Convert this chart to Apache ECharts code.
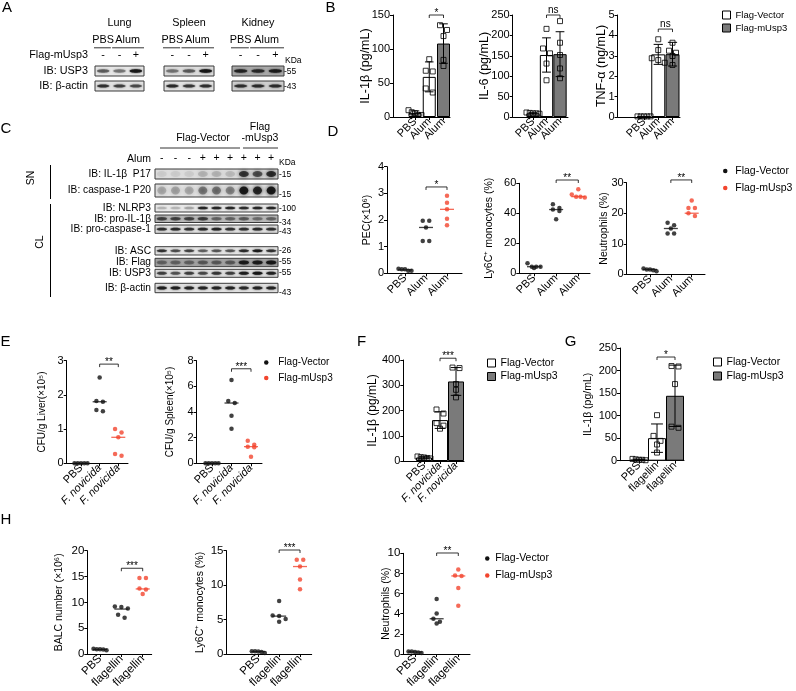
<!DOCTYPE html>
<html><head><meta charset="utf-8">
<script src="https://cdn.jsdelivr.net/npm/echarts@6/dist/echarts.min.js"></script>
<style>html,body{margin:0;padding:0;background:#fff}#c{width:796px;height:691px}</style>
</head><body><div id="c"></div><script>
const FONT = '"Liberation Sans", Arial, Helvetica, sans-serif';
const GRAY = '#7a7a7a';
const RED = '#f2452e';
const BLACK = '#111111';

// ---------- categories ----------
const catAlum = ['PBS', 'Alum', 'Alum'];
const catNov = ['PBS', 'F. novicida', 'F. novicida'];
const catFla = ['PBS', 'flagellin', 'flagellin'];
const groupNames = ['Flag-Vector', 'Flag-mUsp3'];

// ---------- B: cytokines (bars = mean, SD, points) ----------
const bIL1bPts = [[10, 3, 5.6, 7, 3], [85, 67, 68, 42, 36], [135, 128, 119, 84, 75]];
const bIL1bMean = [6, 59, 108];
const bIL1bSD = [3, 22, 29];
const bIL6Pts = [[8, 10, 9, 11, 9], [216, 168, 156, 131, 90], [235, 182, 152, 119, 95]];
const bIL6Mean = [9, 152, 154];
const bIL6SD = [1.5, 42, 55];
const bTNFPts = [[0.03, 0.03, 0.03, 0.03, 0.03], [3.81, 3.28, 2.88, 2.66, 2.79], [3.64, 3.25, 2.99, 2.55, 3.15]];
const bTNFMean = [0.03, 3.07, 3.08];
const bTNFSD = [0, 0.49, 0.58];

// ---------- D: peritoneal cells (points, medians) ----------
const dPECPts = [[0.1, 0.15, 0.17, 0.15, 0.1], [1.97, 1.97, 1.72, 1.21, 1.21], [2.91, 2.65, 2.4, 2.05, 1.8]];
const dPECMed = [0.13, 1.72, 2.4];
const dLyPts = [[3.5, 4.4, 6.7, 4.4, 4.4], [46, 43.5, 42.5, 41.5, 36], [56, 52.5, 51, 51, 50.5]];
const dLyMed = [4.4, 42.5, 51.1];
const dNeuPts = [[1.0, 1.3, 1.6, 1.6, 1.9], [16.9, 16.1, 15.0, 13.4, 13.4], [24.2, 21.7, 21.7, 20.0, 19.1]];
const dNeuMed = [1.6, 15.0, 20.0];

// ---------- E: bacterial burden ----------
const eLiverPts = [[0, 0, 0, 0, 0], [2.51, 1.82, 1.80, 1.56, 1.52], [1.0, 0.9, 0.76, 0.27, 0.22]];
const eLiverMed = [0, 1.8, 0.76];
const eSpleenPts = [[0, 0, 0, 0, 0], [6.5, 4.85, 4.7, 3.7, 2.7], [1.75, 1.45, 1.3, 1.25, 0.52]];
const eSpleenMed = [0, 4.7, 1.3];

// ---------- F / G: IL-1β ----------
const fIL1bPts = [[12, 18, 15, 14, 10], [204, 188, 150, 140, 128], [370, 368, 305, 282, 252]];
const fIL1bMean = [14, 162, 315];
const fIL1bSD = [3, 33, 55];
const gIL1bPts = [[2, 3, 4, 2, 1], [101, 55, 44, 36, 18], [210, 209, 170, 73, 75.5]];
const gIL1bMean = [2.4, 50, 144];
const gIL1bSD = [1, 31.5, 68];

// ---------- H: BALF ----------
const hBALCPts = [[0.9, 1.0, 0.85, 0.9, 0.75], [9.2, 8.8, 9.1, 7.0, 7.6], [14.7, 14.7, 12.7, 12.5, 11.6]];
const hBALCMed = [0.87, 8.7, 12.6];
const hLyPts = [[0.3, 0.4, 0.4, 0.35, 0.15], [7.7, 5.6, 5.5, 5.1, 4.7], [13.7, 13.7, 12.7, 10.8, 9.4]];
const hLyMed = [0.35, 5.5, 12.7];
const hNeuPts = [[0.25, 0.25, 0.2, 0.15, 0.1], [5.45, 4.03, 3.5, 3.2, 3.04], [8.4, 7.8, 7.75, 6.55, 4.8]];
const hNeuMed = [0.2, 3.5, 7.75];

// ---------- significance (from group, to group, height, label) ----------
const sigB1 = [1, 2, 150, '*'];
const sigB2 = [1, 2, 250, 'ns'];
const sigB3 = [1, 2, 4.31, 'ns'];
const sigD1 = [1, 2, 3.24, '*'];
const sigD2 = [1, 2, 62.2, '**'];
const sigD3 = [1, 2, 30.9, '**'];
const sigE1 = [1, 2, 2.9, '**'];
const sigE2 = [1, 2, 7.37, '***'];
const sigF = [1, 2, 407, '***'];
const sigG = [1, 2, 230, '*'];
const sigH1 = [1, 2, 16.6, '***'];
const sigH2 = [1, 2, 15.1, '***'];
const sigH3 = [1, 2, 10.03, '**'];

// ---------- blot band intensities (per lane) ----------
const aLungUSP3 = [0.45, 0.35, 0.9], aLungActin = [0.7, 0.6, 0.55];
const aSpleenUSP3 = [0.35, 0.45, 0.95], aSpleenActin = [0.75, 0.65, 0.7];
const aKidneyUSP3 = [0.75, 0.7, 0.85], aKidneyActin = [0.7, 0.72, 0.72];
const cP17 = [0.06, 0.06, 0.06, 0.15, 0.15, 0.12, 0.75, 0.6, 0.8];
const cP20 = [0.2, 0.22, 0.2, 0.4, 0.42, 0.35, 0.95, 0.85, 0.95];
const cNLRP3 = [0.15, 0.15, 0.2, 0.8, 0.8, 0.8, 0.75, 0.8, 0.8];
const cProIL1b = [0.55, 0.55, 0.55, 0.6, 0.35, 0.35, 0.4, 0.3, 0.35];
const cProCasp1 = [0.7, 0.75, 0.7, 0.75, 0.8, 0.7, 0.7, 0.75, 0.7];
const cASC = [0.7, 0.55, 0.6, 0.45, 0.5, 0.5, 0.75, 0.9, 0.7];
const cFlag = [0.3, 0.3, 0.3, 0.35, 0.35, 0.35, 0.85, 0.85, 0.9];
const cUSP3 = [0.6, 0.5, 0.6, 0.55, 0.65, 0.6, 0.85, 0.95, 0.8];
const cActin = [0.85, 0.85, 0.8, 0.8, 0.8, 0.8, 0.75, 0.8, 0.8];
const cAlumSigns = ['-', '-', '-', '+', '+', '+', '+', '+', '+'];
const aSigns = ['-', '-', '+'];

// ---------- layout of each chart (pixels) ----------
const specs = [
  {type: 'bar', x0: 393, x1: 450, yTop: 15, y0: 117, max: 150, step: 50, c0: 415, c2: 443.5, bw: 13, cats: catAlum, name: 'IL-1β (pg/mL)', nameX: 366, nameFs: 12.5, fs: 11, pts: bIL1bPts, mean: bIL1bMean, sd: bIL1bSD, sig: sigB1},
  {type: 'bar', x0: 512.7, x1: 568, yTop: 15, y0: 117, max: 250, step: 50, c0: 533, c2: 560, bw: 13.3, cats: catAlum, name: 'IL-6 (pg/mL)', nameX: 485, nameFs: 12.5, fs: 11, pts: bIL6Pts, mean: bIL6Mean, sd: bIL6SD, sig: sigB2},
  {type: 'bar', x0: 617.5, x1: 680, yTop: 15, y0: 117, max: 5, step: 1, c0: 644, c2: 672.5, bw: 14, cats: catAlum, name: 'TNF-α (ng/mL)', nameX: 602, nameFs: 12.5, fs: 11, pts: bTNFPts, mean: bTNFMean, sd: bTNFSD, sig: sigB3},
  {type: 'dot', x0: 387, x1: 462, yTop: 166.7, y0: 273.3, max: 4, step: 1, c0: 405, c2: 447, cats: catAlum, name: 'PEC(×10⁶)', nameX: 367, nameFs: 10.5, fs: 11, pts: dPECPts, med: dPECMed, sig: sigD1},
  {type: 'dot', x0: 519.3, x1: 590, yTop: 183.3, y0: 273.3, max: 60, step: 20, c0: 534, c2: 578.3, cats: catAlum, name: 'Ly6C⁺ monocytes (%)', nameX: 489, nameFs: 10.5, fs: 11, pts: dLyPts, med: dLyMed, sig: sigD2},
  {type: 'dot', x0: 626.7, x1: 705, yTop: 182.7, y0: 274.3, max: 30, step: 10, c0: 650, c2: 691.7, cats: catAlum, name: 'Neutrophils (%)', nameX: 604, nameFs: 10.5, fs: 11, pts: dNeuPts, med: dNeuMed, sig: sigD3},
  {type: 'dot', x0: 66.7, x1: 128, yTop: 360.7, y0: 463.3, max: 3, step: 1, c0: 81, c2: 118.3, cats: catNov, name: 'CFU/g Liver(×10⁵)', nameX: 42.7, nameFs: 10, fs: 11, pts: eLiverPts, med: eLiverMed, sig: sigE1},
  {type: 'dot', x0: 196.7, x1: 262, yTop: 360.7, y0: 463.3, max: 8, step: 2, c0: 212, c2: 251, cats: catNov, name: 'CFU/g Spleen(×10⁵)', nameX: 170.7, nameFs: 10, fs: 11, pts: eSpleenPts, med: eSpleenMed, sig: sigE2},
  {type: 'bar', x0: 403.3, x1: 464, yTop: 360, y0: 461, max: 400, step: 100, c0: 424, c2: 456, bw: 16, cats: catNov, name: 'IL-1β (pg/mL)', nameX: 373, nameFs: 12, fs: 11, pts: fIL1bPts, mean: fIL1bMean, sd: fIL1bSD, sig: sigF},
  {type: 'bar', x0: 620, x1: 684, yTop: 348, y0: 460.7, max: 250, step: 50, c0: 639, c2: 675, bw: 18, cats: catFla, name: 'IL-1β (pg/mL)', nameX: 588, nameFs: 10.5, fs: 11, pts: gIL1bPts, mean: gIL1bMean, sd: gIL1bSD, sig: sigG},
  {type: 'dot', x0: 87.3, x1: 151.7, yTop: 550.7, y0: 654, max: 20, step: 5, c0: 100, c2: 142.7, cats: catFla, name: 'BALC number (×10⁶)', nameX: 59.3, nameFs: 10.5, fs: 11.5, pts: hBALCPts, med: hBALCMed, sig: sigH1},
  {type: 'dot', x0: 226.5, x1: 311.7, yTop: 550.7, y0: 654, max: 15, step: 5, c0: 258.3, c2: 300, cats: catFla, name: 'Ly6C⁺ monocytes (%)', nameX: 200, nameFs: 10.5, fs: 11.5, pts: hLyPts, med: hLyMed, sig: sigH2},
  {type: 'dot', x0: 403.3, x1: 470, yTop: 553.3, y0: 654, max: 10, step: 2, c0: 415, c2: 458.3, cats: catFla, name: 'Neutrophils (%)', nameX: 386, nameFs: 10.5, fs: 11.5, pts: hNeuPts, med: hNeuMed, sig: sigH3}
];

// beeswarm-like horizontal offsets (layout only)
function swarm(vals, ppu, d) {
  const order = vals.map((v, i) => i).sort((a, b) => vals[b] - vals[a]);
  const rows = [];
  order.forEach(i => {
    const r = rows[rows.length - 1];
    if (r && Math.abs(vals[r[0]] - vals[i]) * ppu < d) r.push(i); else rows.push([i]);
  });
  const off = new Array(vals.length).fill(0);
  rows.forEach(r => {
    const s = r.length > 1 ? Math.min(d + 2, 13 / (r.length - 1)) : 0;
    r.forEach((i, k) => { off[i] = (k - (r.length - 1) / 2) * s; });
  });
  return off;
}

const grid = [], xAxis = [], yAxis = [], series = [];
specs.forEach((c, i) => {
  const sp = (c.c2 - c.c0) / 2;
  const ppu = (c.y0 - c.yTop) / c.max;
  const xmin = -(c.c0 - c.x0) / sp, xmax = 2 + (c.x1 - c.c2) / sp;
  grid.push({left: c.x0, top: c.yTop, width: c.x1 - c.x0, height: c.y0 - c.yTop, containLabel: false});
  const labelCfg = vals => ({
    customValues: vals, rotate: 45, margin: 3, fontSize: c.fs, color: '#000', fontFamily: FONT,
    hideOverlap: false, showMinLabel: true, showMaxLabel: true,
    formatter: v => { const t = c.cats[Math.round(v)]; return t.indexOf('F. ') === 0 ? '{i|' + t + '}' : t; },
    rich: {i: {fontStyle: 'italic', fontSize: c.fs, fontFamily: FONT, color: '#000'}}
  });
  // main x axis: line, ticks, outer category labels
  xAxis.push({
    type: 'value', gridIndex: i, position: 'bottom', min: xmin, max: xmax,
    splitLine: {show: false},
    axisLine: {show: true, onZero: false, lineStyle: {color: '#000', width: 1}},
    axisTick: {show: true, customValues: [0, 1, 2], length: 3, lineStyle: {color: '#000', width: 1}},
    axisLabel: labelCfg([0, 2])
  });
  // companion x axis on the same grid carrying the middle category label
  xAxis.push({
    type: 'value', gridIndex: i, position: 'bottom', offset: 0, min: xmin, max: xmax,
    splitLine: {show: false}, axisLine: {show: false, onZero: false}, axisTick: {show: false},
    axisLabel: labelCfg([1])
  });
  yAxis.push({
    type: 'value', gridIndex: i, min: 0, max: c.max, interval: c.step,
    name: c.name, nameLocation: 'middle', nameGap: c.x0 - c.nameX - c.nameFs / 2, nameMoveOverlap: false,
    nameTextStyle: {fontSize: c.nameFs, color: '#000', fontFamily: FONT},
    splitLine: {show: false},
    axisLine: {show: true, onZero: false, lineStyle: {color: '#000', width: 1}},
    axisTick: {show: true, length: 3, lineStyle: {color: '#000', width: 1}},
    axisLabel: {margin: 3, fontSize: c.fs, color: '#000', fontFamily: FONT, hideOverlap: false}
  });
  const ax = {xAxisIndex: 2 * i, yAxisIndex: i};
  if (c.type === 'bar') {
    series.push(Object.assign({type: 'bar', name: groupNames[0], data: [[0, c.mean[0]], [1, c.mean[1]]], barWidth: c.bw, barGap: '-100%', z: 2, silent: true,
      itemStyle: {color: '#fff', borderColor: '#000', borderWidth: 1}}, ax));
    series.push(Object.assign({type: 'bar', name: groupNames[1], data: [[2, c.mean[2]]], barWidth: c.bw, barGap: '-100%', z: 2, silent: true,
      itemStyle: {color: GRAY, borderColor: '#000', borderWidth: 1}}, ax));
    const cap = c.bw * 0.33;
    series.push(Object.assign({type: 'custom', name: 'sd', z: 3, silent: true, clip: false,
      data: c.mean.map((m, g) => [g, m, c.sd[g]]),
      renderItem: (p, api) => {
        const g = api.value(0), m = api.value(1), s = api.value(2);
        if (!s) return null;
        const t = api.coord([g, m + s]), b = api.coord([g, Math.max(0, m - s)]);
        const st = {stroke: '#000', lineWidth: 1};
        return {type: 'group', children: [
          {type: 'line', shape: {x1: t[0], y1: t[1], x2: b[0], y2: b[1]}, style: st},
          {type: 'line', shape: {x1: t[0] - cap, y1: t[1], x2: t[0] + cap, y2: t[1]}, style: st},
          {type: 'line', shape: {x1: b[0] - cap, y1: b[1], x2: b[0] + cap, y2: b[1]}, style: st}
        ]};
      }}, ax));
  }
  const sym = c.type === 'bar' ? 'rect' : 'circle';
  const size = c.type === 'bar' ? 5 : 4.5;
  const mk = g => { const off = swarm(c.pts[g], ppu, size); return c.pts[g].map((v, k) => ({value: [g, v], symbolOffset: [off[k], 0]})); };
  const style = col => c.type === 'bar' ? {color: 'rgba(0,0,0,0)', borderColor: '#000', borderWidth: 1} : {color: col};
  series.push(Object.assign({type: 'scatter', name: groupNames[0], symbol: sym, symbolSize: size, z: 4, silent: true,
    data: mk(0).concat(mk(1)), itemStyle: style(BLACK)}, ax));
  series.push(Object.assign({type: 'scatter', name: groupNames[1], symbol: sym, symbolSize: size, z: 4, silent: true,
    data: mk(2), itemStyle: style(RED)}, ax));
  if (c.type === 'dot') {
    series.push(Object.assign({type: 'scatter', name: groupNames[0], symbol: 'rect', symbolSize: [14, 1.3], z: 3, silent: true,
      data: [[0, c.med[0]], [1, c.med[1]]], itemStyle: {color: BLACK}}, ax));
    series.push(Object.assign({type: 'scatter', name: groupNames[1], symbol: 'rect', symbolSize: [14, 1.3], z: 3, silent: true,
      data: [[2, c.med[2]]], itemStyle: {color: RED}}, ax));
  }
  const sg = c.sig;
  series.push(Object.assign({type: 'custom', name: 'sig', z: 5, silent: true, clip: false,
    data: [[sg[0], sg[1], sg[2]]],
    renderItem: (p, api) => {
      const a = api.coord([api.value(0), api.value(2)]), b = api.coord([api.value(1), api.value(2)]);
      return {type: 'group', children: [
        {type: 'polyline', shape: {points: [[a[0], a[1] + 3], [a[0], a[1]], [b[0], b[1]], [b[0], b[1] + 3]]}, style: {stroke: '#000', lineWidth: 0.8, fill: 'none'}},
        {type: 'text', x: (a[0] + b[0]) / 2, y: a[1] - (sg[3] === 'ns' ? 5 : 2), style: {text: sg[3], textAlign: 'center', textVerticalAlign: 'middle', fontSize: 10, fontFamily: FONT, fill: '#000'}}
      ]};
    }}, ax));
});

// ---------- legends ----------
function lg(left, top, gap, fs, kind, iw) {
  const items = kind === 'bar'
    ? [{name: groupNames[0], icon: 'rect', itemStyle: {color: '#fff', borderColor: '#000', borderWidth: 1}},
       {name: groupNames[1], icon: 'rect', itemStyle: {color: GRAY, borderColor: '#000', borderWidth: 1}}]
    : [{name: groupNames[0], icon: 'circle', itemStyle: {color: BLACK, borderWidth: 0}},
       {name: groupNames[1], icon: 'circle', itemStyle: {color: RED, borderWidth: 0}}];
  return {left, top, orient: 'vertical', itemGap: gap, padding: 0, selectedMode: false,
    itemWidth: kind === 'bar' ? 8 : iw, itemHeight: kind === 'bar' ? 8 : 4.5,
    textStyle: {fontSize: fs, color: '#000', fontFamily: FONT}, data: items};
}
const legend = [
  lg(722, 10, 3, 9.5, 'bar'),
  lg(723, 165.5, 6, 10.5, 'dot', 10),
  lg(264, 357.5, 5.5, 10, 'dot', 14),
  lg(487, 357.5, 2.5, 10.5, 'bar'),
  lg(713, 356.5, 3, 10.5, 'bar'),
  lg(485, 553, 6, 10.5, 'dot', 6)
];

// ---------- graphic: panel letters, blots, labels ----------
function txt(s, x, y, o) {
  o = o || {};
  return {type: 'text', x, y, rotation: o.rot || 0, z: 10,
    style: {text: s, fontSize: o.fs || 10.5, fontFamily: FONT, fill: '#000', textAlign: o.al || 'left', textVerticalAlign: 'middle'}};
}
function ln(x1, y1, x2, y2, w) {
  return {type: 'line', z: 10, shape: {x1, y1, x2, y2}, style: {stroke: '#000', lineWidth: w || 1}};
}
function blot(x, y, w, h, vals, o) {
  o = o || {};
  const n = vals.length, lw = w / n, els = [];
  els.push({type: 'rect', z: 8, shape: {x, y, width: w, height: h}, style: {fill: o.bg || '#e4e4e4', stroke: '#3a3a3a', lineWidth: 1}});
  vals.forEach((v, k) => {
    const cx = x + lw * (k + 0.5);
    els.push({type: 'ellipse', z: 9, shape: {cx, cy: y + h / 2 + (o.dy || 0), rx: lw * (o.rx || 0.38), ry: (o.bh || 3) / 2},
      style: {fill: '#141414', opacity: v, shadowBlur: o.blur || 2, shadowColor: '#141414'}});
  });
  return els;
}
const G = [];
[['A', 7, 7.5], ['B', 330.5, 7.5], ['C', 6, 128.5], ['D', 333, 132], ['E', 5.5, 342], ['F', 361.5, 342], ['G', 570.5, 342], ['H', 6, 520]]
  .forEach(p => G.push(txt(p[0], p[1], p[2], {fs: 15, al: 'center'})));

// Panel A
const aTissues = [['Lung', 95, 144, aLungUSP3, aLungActin, '#e6e6e6'], ['Spleen', 164, 214, aSpleenUSP3, aSpleenActin, '#dcdcdc'], ['Kidney', 232, 284, aKidneyUSP3, aKidneyActin, '#a9a9a9']];
aTissues.forEach(t => {
  const x = t[1], w = t[2] - t[1], lw = w / 3;
  G.push(txt(t[0], x + w / 2, 22.7, {fs: 10.8, al: 'center'}));
  G.push(txt('PBS', x + lw * 0.5, 40, {fs: 10.8, al: 'center'}));
  G.push(txt('Alum', x + lw * 2, 40, {fs: 10.8, al: 'center'}));
  G.push(ln(x - 1, 47.8, x + lw - 0.5, 47.8, 0.8));
  G.push(ln(x + lw + 0.8, 47.8, x + w, 47.8, 0.8));
  aSigns.forEach((s, k) => G.push(txt(s, x + lw * (k + 0.5), 55, {fs: 10.8, al: 'center'})));
  G.push(...blot(x, 66, w, 10, t[3], {bg: t[5], bh: 3.4}));
  G.push(...blot(x, 81, w, 10, t[4], {bg: t[0] === 'Kidney' ? '#cfcfcf' : '#e2e2e2', bh: 3}));
});
G.push(txt('Flag-mUsp3', 88, 55.5, {fs: 10.8, al: 'right'}));
G.push(txt('IB: USP3', 88, 71, {fs: 10.8, al: 'right'}));
G.push(txt('IB: β-actin', 88, 86, {fs: 10.8, al: 'right'}));
G.push(txt('KDa', 285, 61, {fs: 8.5}));
G.push(txt('-55', 284, 71.5, {fs: 8.5}));
G.push(txt('-43', 284, 86.5, {fs: 8.5}));

// Panel C
const cX = 155, cW = 123, cLw = cW / 9;
G.push(txt('Flag-Vector', 203, 138, {fs: 10.5, al: 'center'}));
G.push(txt('Flag', 260, 127, {fs: 10.5, al: 'center'}));
G.push(txt('-mUsp3', 260, 138, {fs: 10.5, al: 'center'}));
G.push(ln(160, 148, 240, 148, 0.8));
G.push(ln(243, 148, 278, 148, 0.8));
G.push(txt('Alum', 151, 159, {fs: 10.5, al: 'right'}));
cAlumSigns.forEach((s, k) => G.push(txt(s, cX + cLw * (k + 0.5), 158.5, {fs: 10.5, al: 'center'})));
G.push(txt('KDa', 279, 163, {fs: 8.5}));
const cRows = [
  ['IB: IL-1β  P17', 169, 10, cP17, '-15', 175, {bg: '#dedede', bh: 6, blur: 4, rx: 0.36}],
  ['IB: caspase-1 P20', 184, 13, cP20, '-15', 195, {bg: '#e2e2e2', bh: 8, blur: 4, rx: 0.33}],
  ['IB: NLRP3', 204, 8, cNLRP3, '-100', 209, {bg: '#e8e8e8', bh: 2.6}],
  ['IB: pro-IL-1β', 215, 7.5, cProIL1b, '-34', 222.5, {bg: '#b9b9b9', bh: 3.5}],
  ['IB: pro-caspase-1', 225, 8.3, cProCasp1, '-43', 231.5, {bg: '#e0e0e0', bh: 2.6}],
  ['IB: ASC', 246.7, 8.3, cASC, '-26', 250.5, {bg: '#e4e4e4', bh: 2.6}],
  ['IB: Flag', 258.3, 8.4, cFlag, '-55', 262, {bg: '#a2a2a2', bh: 4}],
  ['IB: USP3', 269.3, 8, cUSP3, '-55', 272.5, {bg: '#dedede', bh: 3}],
  ['IB: β-actin', 283.3, 9.4, cActin, '-43', 293, {bg: '#e0e0e0', bh: 3}]
];
cRows.forEach(r => {
  G.push(txt(r[0], 151, r[1] + r[2] / 2, {fs: 10.2, al: 'right'}));
  G.push(...blot(cX, r[1], cW, r[2], r[3], r[6]));
  G.push(txt(r[4], 279, r[5], {fs: 8.5}));
});
G.push(txt('SN', 31, 178, {fs: 10.5, al: 'center', rot: Math.PI / 2}));
G.push(txt('CL', 40, 242, {fs: 10.5, al: 'center', rot: Math.PI / 2}));
G.push(ln(50.5, 165, 50.5, 199, 1));
G.push(ln(50.5, 204, 50.5, 297, 1));

const chart = echarts.init(document.getElementById('c'), null, {renderer: 'canvas'});
chart.setOption({
  animation: false,
  backgroundColor: '#ffffff',
  textStyle: {fontFamily: FONT},
  grid, xAxis, yAxis, series, legend,
  graphic: {elements: G}
});
</script></body></html>
